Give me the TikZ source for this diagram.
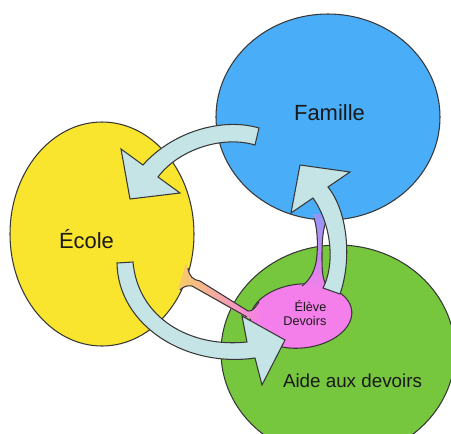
\documentclass[tikz,border=0pt]{standalone}
\usepackage{fontspec}
\setmainfont{Liberation Sans}
\usetikzlibrary{calc,positioning}
\definecolor{ecoleyel}{RGB}{249,228,46}
\definecolor{famblue}{RGB}{74,173,248}
\definecolor{aidegreen}{RGB}{118,199,62}
\definecolor{elevepink}{RGB}{245,127,234}
\definecolor{arrcyan}{RGB}{196,228,230}
\definecolor{edge}{RGB}{55,55,55}
\definecolor{tendorange}{RGB}{247,204,104}
\definecolor{tendviolet}{RGB}{146,150,246}

\begin{document}
\begin{tikzpicture}[x=0.02cm, y=-0.02cm]
\tikzstyle{blob}=[draw=edge, line width=0.6pt]
\tikzstyle{side}=[draw=edge, line width=0.6pt]
\tikzstyle{bigarrow}=[fill=arrcyan, draw=edge, line width=0.6pt, line join=miter]
\tikzstyle{lbl}=[inner sep=0pt, text=black!90]

\useasboundingbox (0,0) rectangle (451,434);

% les trois milieux
\filldraw[blob, fill=ecoleyel] (102,234) ellipse (92 and 112);
\filldraw[blob, fill=famblue] (328,117) ellipse (112 and 103);
\filldraw[blob, fill=aidegreen] (338,352) ellipse (117 and 107);

% l'eleve et ses deux liens
\filldraw[blob, fill=elevepink, rotate around={6:(301,316)}] (301,316) ellipse (51 and 32);
\shade[left color=tendorange, right color=elevepink] (186,264) -- (188,268) .. controls (189,276) and (193,280) .. (200,281) -- (248,311) .. controls (253,312) and (256,306) .. (260,301) -- (262,322) -- (245,317) -- (192,286) .. controls (187,285) and (183,287) .. (180,290) -- (178,289) -- cycle;
\path[side] (188,268) .. controls (189,276) and (193,280) .. (200,281) -- (248,311) .. controls (253,312) and (256,306) .. (259,302);
\path[side] (180,290) .. controls (183,287) and (187,285) .. (192,286) -- (247,317);
\shade[top color=tendviolet, bottom color=elevepink] (313,214) .. controls (317,228) and (318,240) .. (317,255) .. controls (316,270) and (310,280) .. (300,288) -- (330,290) .. controls (322,280) and (322,268) .. (322,255) .. controls (322,240) and (323,228) .. (329,214) -- cycle;
\path[side] (314,218) .. controls (317,228) and (318,240) .. (317,255) .. controls (316,270) and (310,280) .. (302,286);
\path[side] (327,286) .. controls (322,280) and (322,268) .. (322,255) .. controls (322,240) and (323,228) .. (327,219);

% les fleches
\draw[bigarrow] (259,128) .. controls (222,117) and (172,132) .. (143,165) -- (121,149) -- (130,199) -- (180,193) -- (158,177) .. controls (178,150) and (222,135) .. (255,145) -- cycle;
\draw[bigarrow] (117,263) .. controls (118,325) and (185,368) .. (255,358) -- (262,385) -- (285,340) -- (242,316) -- (247,342) .. controls (190,348) and (138,318) .. (133,262) -- cycle;
\draw[bigarrow] (340,294) .. controls (352,260) and (348,212) .. (328,187) -- (350,172) -- (300,165) -- (291,213) -- (313,198) .. controls (332,225) and (335,265) .. (323,288) -- cycle;

\node[lbl, anchor=base, font=\fontsize{12.5}{15}\selectfont] (famille) at (329.5,120) {Famille};
\node[lbl, anchor=base, font=\fontsize{12.5}{15}\selectfont] (ecole) at (86.5,248) {École};
\node[lbl, anchor=base, font=\fontsize{10.7}{13}\selectfont] (aide) at (352.5,387) {Aide aux devoirs};
\node[lbl, anchor=base east, font=\fontsize{7.2}{8.1}\selectfont] (eleve) at (326.7,311.7) {Élève};
\node[lbl, anchor=base east, font=\fontsize{7.2}{8.1}\selectfont] (devoirs) at ([yshift=-8.1pt]eleve.base east) {Devoirs};
\end{tikzpicture}
\end{document}
